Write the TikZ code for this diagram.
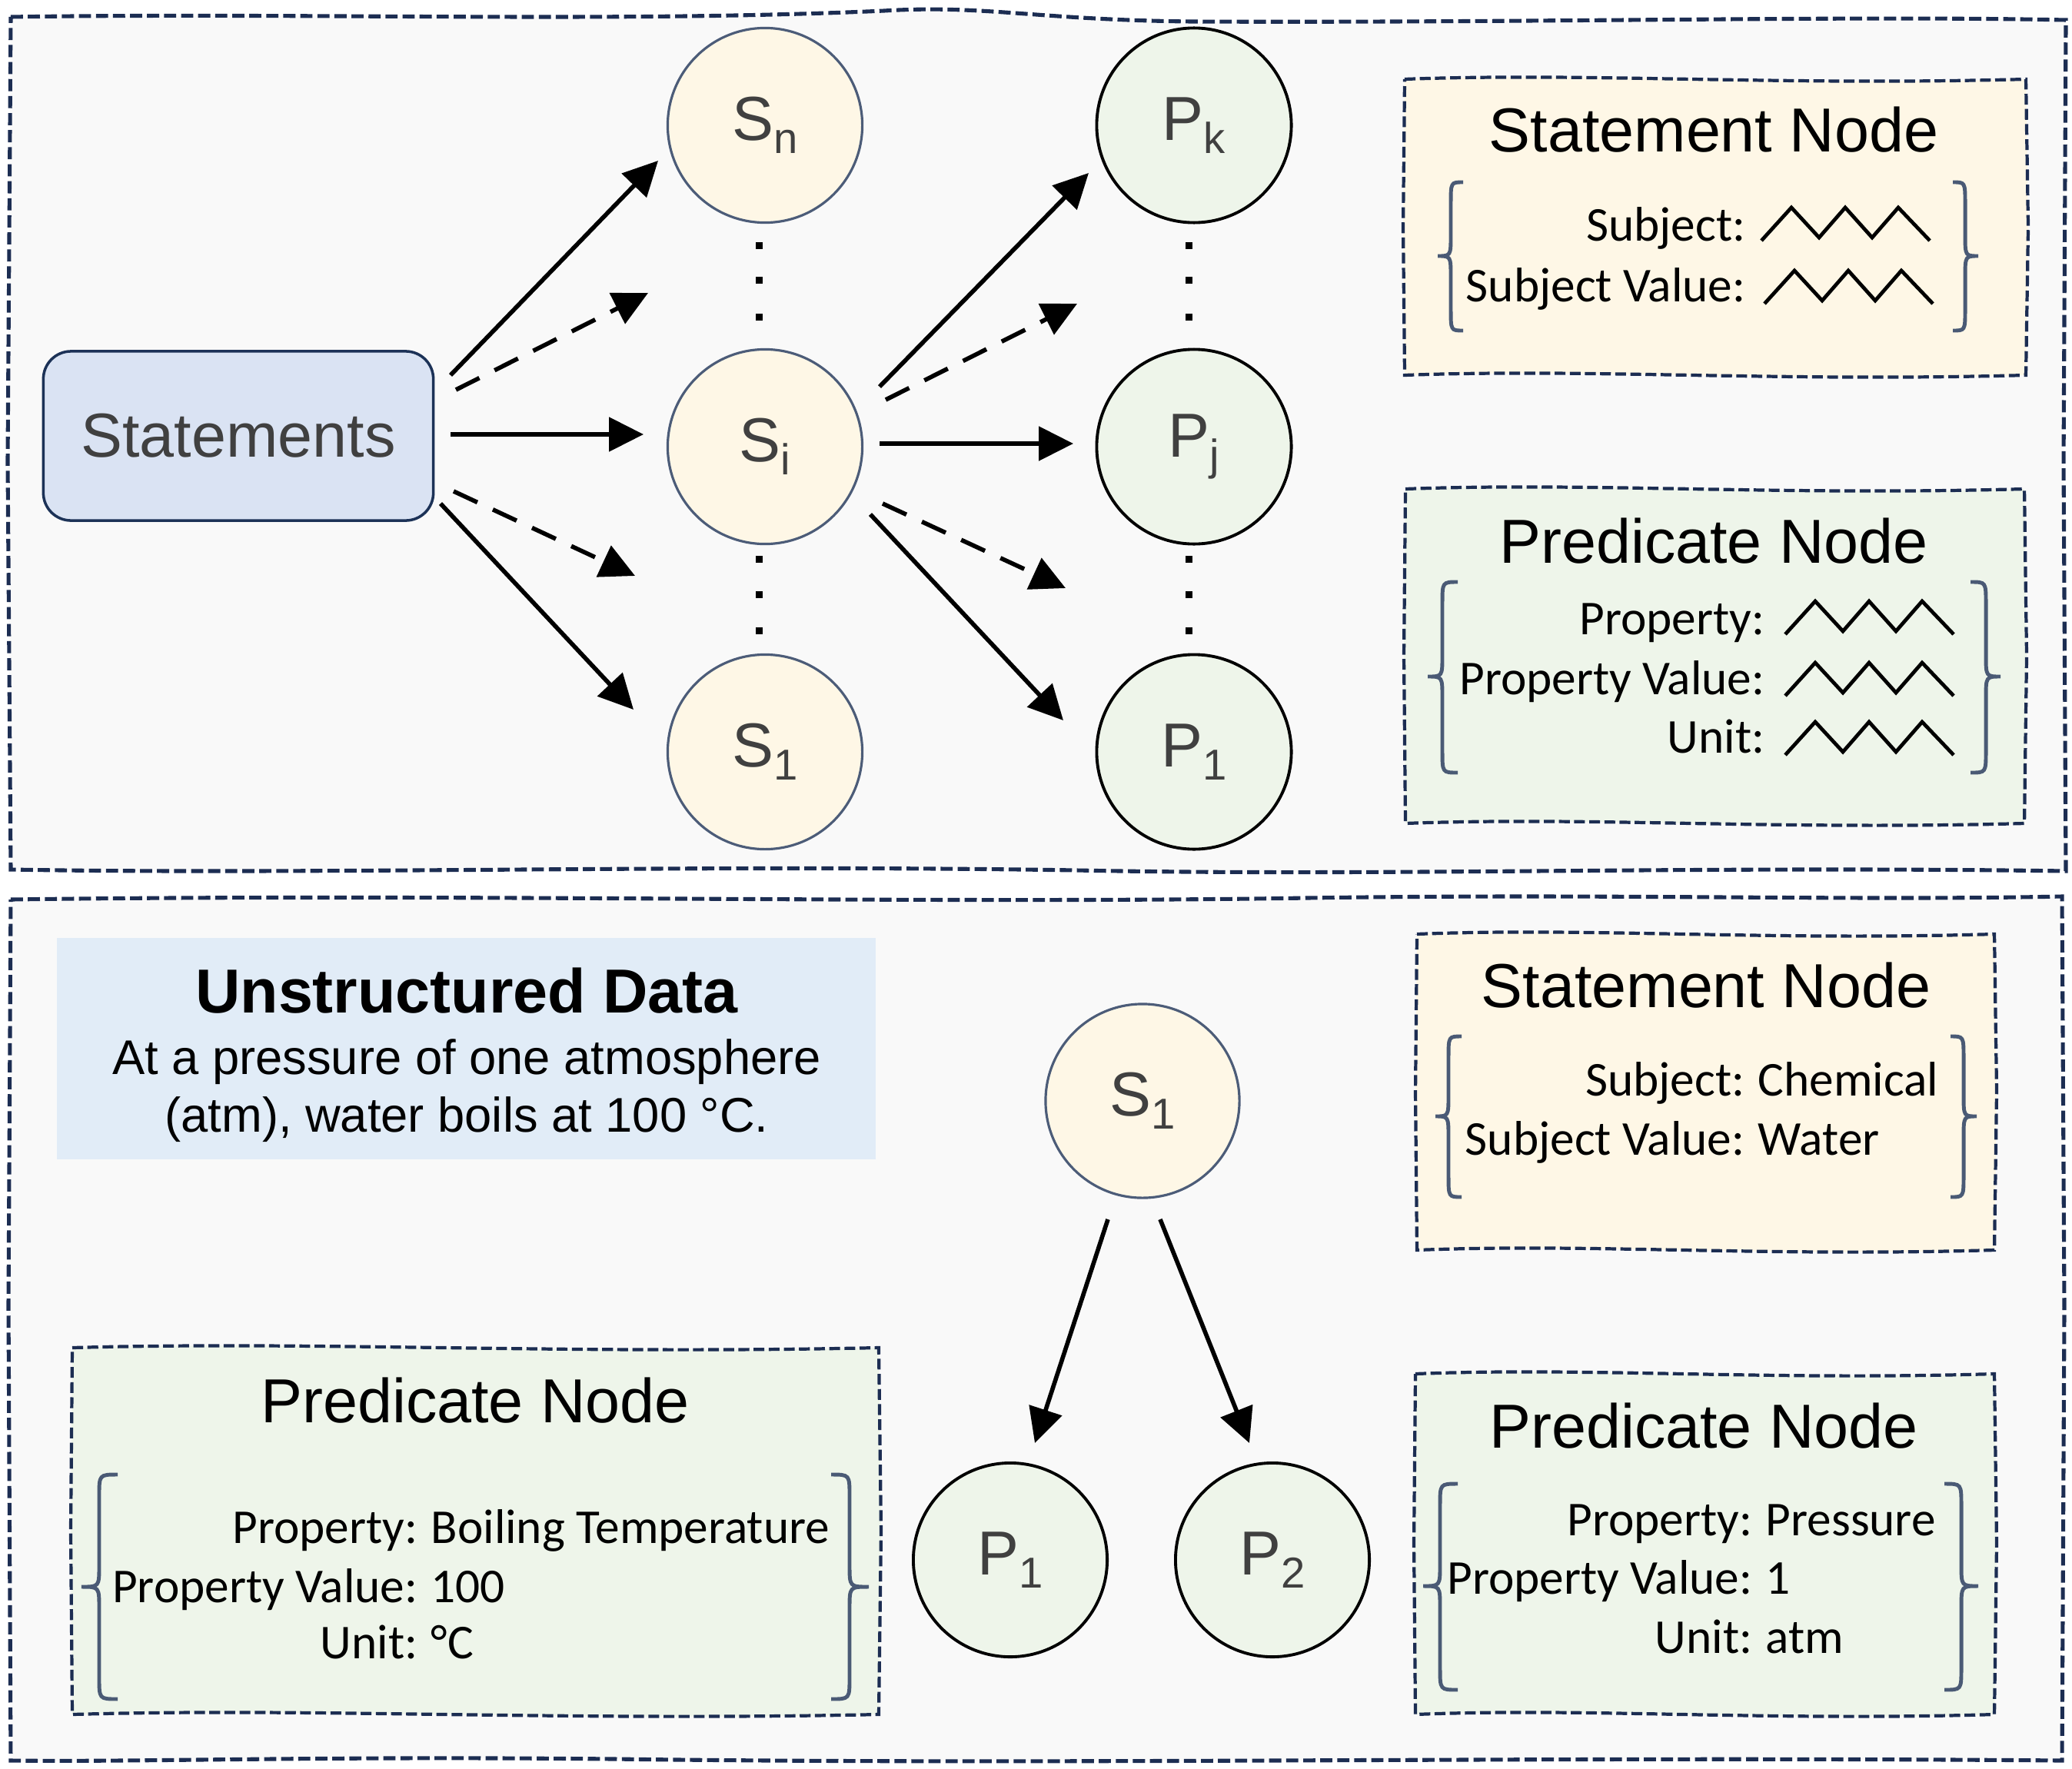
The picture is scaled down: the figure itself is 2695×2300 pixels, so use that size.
\documentclass[tikz,border=0pt]{standalone}
\usepackage{fontspec}
\setmainfont{Liberation Sans}
\newfontfamily\calf{Carlito}
\usetikzlibrary{arrows.meta,calc}
\definecolor{panelfill}{HTML}{F9F9F9}
\definecolor{navy}{HTML}{1C2D52}
\definecolor{stfill}{HTML}{FEF7E6}
\definecolor{prfill}{HTML}{EEF5EA}
\definecolor{stmfill}{HTML}{DAE3F3}
\definecolor{stmdraw}{HTML}{1C3257}
\definecolor{slate}{HTML}{4C5C78}
\definecolor{bracecol}{HTML}{4A5A75}
\definecolor{txtgrey}{HTML}{404040}
\definecolor{udfill}{HTML}{E1ECF7}
\tikzset{
  panel/.style={fill=panelfill, draw=navy, line width=1.45pt, dash pattern=on 4.5pt off 1.8pt},
  stbox/.style={fill=stfill, draw=navy, line width=1.2pt, dash pattern=on 4pt off 1.6pt},
  prbox/.style={fill=prfill, draw=navy, line width=1.2pt, dash pattern=on 4pt off 1.6pt},
  snode/.style={circle, fill=stfill, draw=slate, line width=0.9pt, minimum size=2.53cm, inner sep=0pt, text=txtgrey, font=\fontsize{23}{27}\selectfont},
  pnode/.style={circle, fill=prfill, draw=black, line width=1.1pt, minimum size=2.53cm, inner sep=0pt, text=txtgrey, font=\fontsize{23}{27}\selectfont},
  stmbox/.style={rectangle, rounded corners=0.36cm, fill=stmfill, draw=stmdraw, line width=1pt, minimum width=5.07cm, minimum height=2.2cm, text=txtgrey, font=\fontsize{23}{27}\selectfont},
  arr/.style={line width=1.6pt, -{Triangle[length=12.8pt,width=12.5pt]}},
  darr/.style={arr, dash pattern=on 9.7pt off 6.3pt},
  titletxt/.style={anchor=base, font=\fontsize{23}{27}\selectfont, inner sep=0pt},
  flab/.style={anchor=base east, font=\calf\fontsize{18}{22}\selectfont, inner sep=0pt},
  fval/.style={anchor=base west, font=\calf\fontsize{18}{22}\selectfont, inner sep=0pt},
  udtxt/.style={anchor=base, font=\fontsize{18}{22}\selectfont, inner sep=0pt},
  brc/.style={draw=bracecol, line width=1.4pt},
  zig/.style={draw=black, line width=1.35pt, line join=miter},
  dotsq/.style={fill=black},
}
\newcommand\sbs[1]{\raisebox{-0.21em}{\fontsize{16}{16}\selectfont #1}}
% brace: tip x, stem x, end x, y top, y mid, y bottom
\newcommand\mybrace[6]{\draw[brc] (#3,#4) .. controls (#2,#4) .. (#2,#4+28) -- (#2,#5-28) .. controls (#2,#5) .. (#1,#5) .. controls (#2,#5) .. (#2,#5+28) -- (#2,#6-28) .. controls (#2,#6) .. (#3,#6);}
\newcommand\zigz[2]{\draw[zig] (#1,#2) -- ++(39,-43) -- ++(36,39) -- ++(34,-39) -- ++(35,39) -- ++(34,-39) -- ++(41,43);}
\newcommand\wbox[5]{\filldraw[#1] (#2,#3) .. controls ({#2+0.3*(#4-#2)},{#3-9}) and ({#2+0.6*(#4-#2)},{#3+9}) .. (#4,#3) -- ({#4+3},{0.5*(#3+#5)}) -- (#4,#5) .. controls ({#2+0.6*(#4-#2)},{#5+9}) and ({#2+0.3*(#4-#2)},{#5-9}) .. (#2,#5) -- ({#2-2},{0.5*(#3+#5)}) -- cycle;}
\begin{document}
\begin{tikzpicture}[x=0.01cm,y=-0.01cm]
\useasboundingbox (0,0) rectangle (2695,2300);
\fill[white] (0,0) rectangle (2695,2300);
% panels
\filldraw[panel] (14,22) .. controls (400,16) and (800,30) .. (1150,14) .. controls (1280,6) and (1350,26) .. (1550,28) .. controls (2000,30) and (2400,20) .. (2687,26) -- (2684,600) -- (2687,1133) .. controls (2200,1126) and (1800,1140) .. (1400,1132) .. controls (900,1124) and (400,1138) .. (14,1131) -- (10,600) -- cycle;
\filldraw[panel] (14,1170) .. controls (600,1162) and (1200,1176) .. (1700,1168) .. controls (2100,1162) and (2400,1172) .. (2682,1166) -- (2685,1700) -- (2682,2290) .. controls (2000,2284) and (1400,2296) .. (800,2288) .. controls (400,2284) and (200,2292) .. (14,2290) -- (11,1700) -- cycle;

% ---------- top panel ----------
\node[stmbox] (stm) at (310,567) {Statements};
\node[snode] (sn) at (995,163) {S\sbs{n}};
\node[snode] (si) at (995,581) {S\sbs{i}};
\node[snode] (s1) at (995,978) {S\sbs{1}};
\node[pnode] (pk) at (1553,163) {P\sbs{k}};
\node[pnode] (pj) at (1553,581) {P\sbs{j}};
\node[pnode] (p1) at (1553,978) {P\sbs{1}};

\foreach \yy in {319,364,412,727,773,820}{
  \fill[dotsq] (983,\yy-4.5) rectangle ++(9,9);
  \fill[dotsq] (1542,\yy-4.5) rectangle ++(9,9);
}

\coordinate (a1s) at (586,488); \coordinate (a1e) at (856,209);
\coordinate (a2s) at (593,507); \coordinate (a2e) at (843,381);
\coordinate (a3s) at (586,565); \coordinate (a3e) at (837,565);
\coordinate (a4s) at (590,639); \coordinate (a4e) at (826,749);
\coordinate (a5s) at (573,655); \coordinate (a5e) at (824,923);
\draw[arr] (a1s) -- (a1e);
\draw[darr] (a2s) -- (a2e);
\draw[arr] (a3s) -- (a3e);
\draw[darr] (a4s) -- (a4e);
\draw[arr] (a5s) -- (a5e);

\coordinate (b1s) at (1144,503); \coordinate (b1e) at (1416,225);
\coordinate (b2s) at (1152,520); \coordinate (b2e) at (1401,395);
\coordinate (b3s) at (1144,577); \coordinate (b3e) at (1396,577);
\coordinate (b4s) at (1148,655); \coordinate (b4e) at (1386,765);
\coordinate (b5s) at (1132,669); \coordinate (b5e) at (1383,937);
\draw[arr] (b1s) -- (b1e);
\draw[darr] (b2s) -- (b2e);
\draw[arr] (b3s) -- (b3e);
\draw[darr] (b4s) -- (b4e);
\draw[arr] (b5s) -- (b5e);

% top statement node box
\wbox{stbox}{1827}{103}{2635}{488}
\node[titletxt] (t1) at (2229,198) {Statement Node};
\node[flab] (t1a) at (2271,313) {Subject:};
\node[flab] (t1b) at (2271,392) {Subject Value:};
\zigz{2291}{313}
\zigz{2295}{395}
\mybrace{1870}{1887}{1903}{237}{333}{430}
\mybrace{2573}{2556}{2540}{237}{333}{430}

% top predicate node box
\wbox{prbox}{1828}{636}{2633}{1071}
\node[titletxt] (t2) at (2229,732) {Predicate Node};
\node[flab] (t2a) at (2296,825) {Property:};
\node[flab] (t2b) at (2296,903) {Property Value:};
\node[flab] (t2c) at (2296,979) {Unit:};
\zigz{2322}{825}
\zigz{2322}{905}
\zigz{2322}{982}
\mybrace{1857}{1876}{1896}{757}{880}{1005}
\mybrace{2602}{2583}{2563}{757}{880}{1005}

% ---------- bottom panel ----------
\fill[udfill] (74,1220) rectangle (1139,1508);
\node[udtxt, font=\bfseries\fontsize{23}{27}\selectfont] (ud1) at (607,1317) {Unstructured Data};
\node[udtxt] (ud2) at (607,1397) {At a pressure of one atmosphere};
\node[udtxt] (ud3) at (607,1472) {(atm), water boils at 100 °C.};

\node[snode, minimum size=2.52cm] (bs1) at (1486,1432) {S\sbs{1}};
\node[pnode, minimum size=2.52cm] (bp1) at (1314,2029) {P\sbs{1}};
\node[pnode, minimum size=2.52cm] (bp2) at (1655,2029) {P\sbs{2}};
\coordinate (c1s) at (1441,1586); \coordinate (c1e) at (1346,1877);
\coordinate (c2s) at (1509,1586); \coordinate (c2e) at (1625,1877);
\draw[arr] (c1s) -- (c1e);
\draw[arr] (c2s) -- (c2e);

% bottom statement node box
\wbox{stbox}{1843}{1215}{2594}{1626}
\node[titletxt] (t3) at (2219,1310) {Statement Node};
\node[flab] (t3a) at (2270,1425) {Subject:};
\node[fval] (t3av) at (2286,1425) {Chemical};
\node[flab] (t3b) at (2270,1502) {Subject Value:};
\node[fval] (t3bv) at (2286,1502) {Water};
\mybrace{1867}{1884}{1901}{1348}{1452}{1557}
\mybrace{2571}{2554}{2537}{1348}{1452}{1557}

% bottom-left predicate node box
\wbox{prbox}{94}{1753}{1143}{2230}
\node[titletxt] (t4) at (618,1850) {Predicate Node};
\node[flab] (t4a) at (544,2007) {Property:};
\node[fval] (t4av) at (560,2007) {Boiling Temperature};
\node[flab] (t4b) at (544,2084) {Property Value:};
\node[fval] (t4bv) at (560,2084) {100};
\node[flab] (t4c) at (544,2157) {Unit:};
\node[fval] (t4cv) at (560,2157) {°C};
\mybrace{106}{129}{153}{1918}{2064}{2210}
\mybrace{1130}{1105}{1081}{1918}{2064}{2210}

% bottom-right predicate node box
\wbox{prbox}{1841}{1787}{2594}{2230}
\node[titletxt] (t5) at (2216,1883) {Predicate Node};
\node[flab] (t5a) at (2280,1997) {Property:};
\node[fval] (t5av) at (2296,1997) {Pressure};
\node[flab] (t5b) at (2280,2073) {Property Value:};
\node[fval] (t5bv) at (2296,2073) {1};
\node[flab] (t5c) at (2280,2150) {Unit:};
\node[fval] (t5cv) at (2296,2150) {atm};
\mybrace{1851}{1873}{1896}{1930}{2063}{2198}
\mybrace{2573}{2551}{2529}{1930}{2063}{2198}
\end{tikzpicture}
\end{document}
